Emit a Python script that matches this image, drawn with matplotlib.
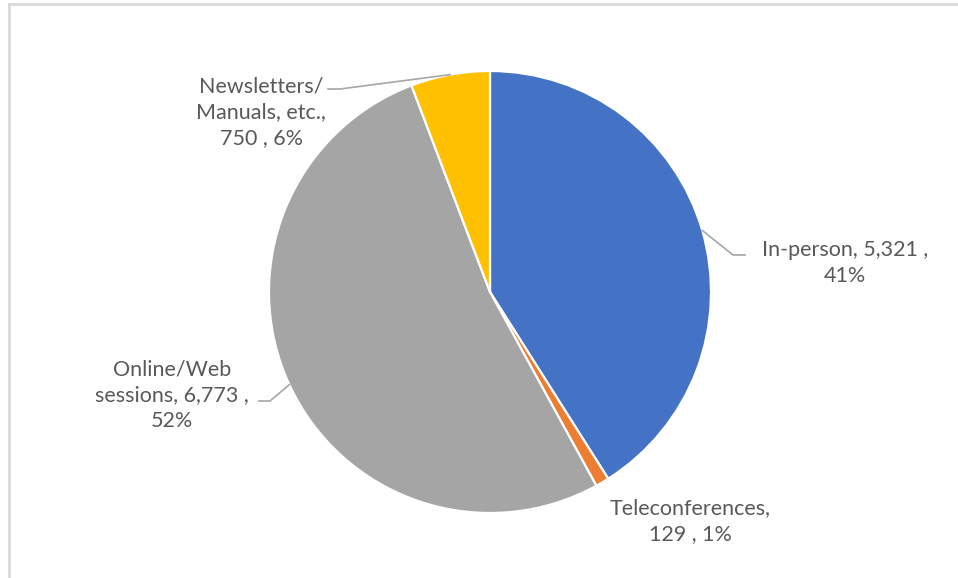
import numpy as np
import matplotlib.pyplot as plt
from matplotlib.lines import Line2D

# data
labels = ["In-person", "Teleconferences", "Online/Web\nsessions", "Newsletters/\nManuals, etc."]
values = [5321, 129, 6773, 750]
colors = ["#4472C4", "#ED7D31", "#A5A5A5", "#FFC000"]

# label layout in pixels (text centre, leader elbow, leader end)
text_pos = [(845, 263), (690, 521), (172, 395), (261, 112)]
elbows = [[(733, 255), (745, 255)], None, [(270, 401), (259, 401)], [(340, 89), (328, 89)]]

W, H = 958, 578
cx, cy, R = 490, 292, 221

plt.rcParams['font.family'] = ['Lato', 'DejaVu Sans']

fig = plt.figure(figsize=(W / 100, H / 100), dpi=100)
ax = fig.add_axes([(cx - R) / W, (H - cy - R) / H, 2 * R / W, 2 * R / H])

wedges, _ = ax.pie(values, colors=colors, startangle=90, counterclock=False, radius=1,
                   wedgeprops=dict(edgecolor="white", linewidth=1.6))
ax.set_xlim(-1, 1)
ax.set_ylim(-1, 1)
ax.axis("off")


def px(p):
    return ((p[0] - cx) / R, (cy - p[1]) / R)


total = sum(values)
for i, w in enumerate(wedges):
    pct = values[i] / total * 100
    name = labels[i]
    if i == 0:
        txt = f"{name}, {values[i]:,} ,\n{pct:.0f}%"
    elif i == 2:
        txt = f"Online/Web\nsessions, {values[i]:,} ,\n{pct:.0f}%"
    else:
        txt = f"{name},\n{values[i]:,} , {pct:.0f}%"
    tx, ty = px(text_pos[i])
    ax.text(tx, ty, txt, ha="center", va="center", multialignment="center",
            fontsize=15.5, color="#595959", linespacing=1.35, clip_on=False)
    if elbows[i] is not None:
        ang = np.deg2rad((w.theta1 + w.theta2) / 2)
        pts = [(np.cos(ang), np.sin(ang))] + [px(p) for p in elbows[i]]
        xs, ys = zip(*pts)
        ax.plot(xs, ys, color="#A6A6A6", lw=1.2, clip_on=False)

# chart border (left and top visible)
fig.add_artist(Line2D([9 / W, 9 / W], [0, 1 - 4 / H], color="#D9D9D9", lw=2))
fig.add_artist(Line2D([9 / W, 1], [1 - 4 / H, 1 - 4 / H], color="#D9D9D9", lw=2))

fig.savefig("out.png", dpi=100)
